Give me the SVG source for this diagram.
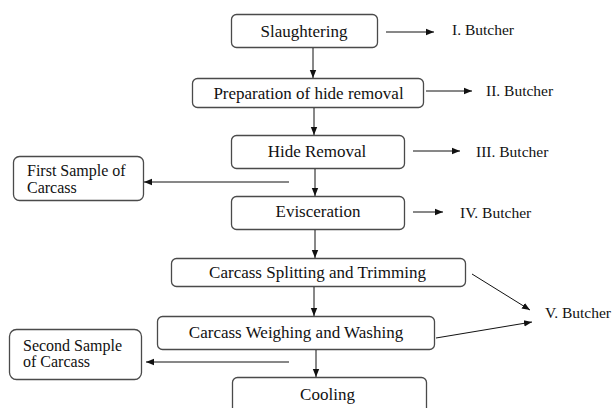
<svg xmlns="http://www.w3.org/2000/svg" width="613" height="408" viewBox="0 0 613 408">
<style>
.box{fill:#fff;stroke:#4a4a4a;stroke-width:1.3}
.t{font-family:'Liberation Serif','Times New Roman',Times,serif;font-size:17px;fill:#111}
.s{font-size:15.5px}
.l{font-size:16px}
.c{text-anchor:middle}
.ln{stroke:#111;stroke-width:1;fill:none;marker-end:url(#ah)}
</style>
<defs>
<marker id="ah" viewBox="0 0 10 10" refX="10" refY="5" markerWidth="8" markerHeight="8" markerUnits="userSpaceOnUse" orient="auto">
<path d="M0,1 L10,5 L0,9 z" fill="#111"/>
</marker>
</defs>
<rect width="613" height="408" fill="#fff"/>
<g id="slaughtering"><rect class="box" x="231.5" y="14.5" width="146" height="33" rx="5"/><text class="t c" x="304" y="37">Slaughtering</text></g>
<g id="prep"><rect class="box" x="192.5" y="78.5" width="231" height="29" rx="5"/><text class="t c" x="308.5" y="99">Preparation of hide removal</text></g>
<g id="hide"><rect class="box" x="231.5" y="135.5" width="173" height="33" rx="5"/><text class="t c" x="317" y="157">Hide Removal</text></g>
<g id="evisc"><rect class="box" x="231.5" y="196.5" width="173" height="33" rx="5"/><text class="t c" x="318" y="217">Evisceration</text></g>
<g id="split"><rect class="box" x="171.5" y="258.5" width="294" height="28" rx="5"/><text class="t c" x="317.5" y="278">Carcass Splitting and Trimming</text></g>
<g id="weigh"><rect class="box" x="157.5" y="316.5" width="277" height="33" rx="5"/><text class="t c" x="296" y="338">Carcass Weighing and Washing</text></g>
<g id="cooling"><rect class="box" x="232.5" y="377.5" width="194" height="40" rx="5"/><text class="t c" x="327.5" y="400">Cooling</text></g>
<g id="first"><rect class="box" x="13.5" y="156.5" width="130" height="44" rx="6"/><text class="t l" x="27" y="176">First Sample of</text><text class="t l" x="27" y="193">Carcass</text></g>
<g id="second"><rect class="box" x="9.5" y="329.5" width="132" height="50" rx="7"/><text class="t l" x="23" y="351">Second Sample</text><text class="t l" x="23" y="367">of Carcass</text></g>
<g id="b1"><text class="t s" x="452" y="35">I. Butcher</text></g>
<g id="b2"><text class="t s" x="486" y="96">II. Butcher</text></g>
<g id="b3"><text class="t s" x="476" y="157">III. Butcher</text></g>
<g id="b4"><text class="t s" x="460" y="218">IV. Butcher</text></g>
<g id="b5"><text class="t s" x="545" y="318">V. Butcher</text></g>
<g id="connectors">
<line class="ln" x1="313" y1="48" x2="313" y2="78"/>
<line class="ln" x1="314" y1="108" x2="314" y2="135"/>
<line class="ln" x1="315" y1="169" x2="315" y2="196"/>
<line class="ln" x1="315" y1="230" x2="315" y2="258"/>
<line class="ln" x1="314" y1="287" x2="314" y2="316"/>
<line class="ln" x1="316" y1="350" x2="316" y2="377"/>
<line class="ln" x1="386" y1="32" x2="434" y2="32"/>
<line class="ln" x1="426" y1="91" x2="472" y2="91"/>
<line class="ln" x1="413" y1="151" x2="460" y2="151"/>
<line class="ln" x1="413" y1="212" x2="443" y2="212"/>
<line class="ln" x1="289" y1="182" x2="144" y2="182"/>
<line class="ln" x1="289" y1="362" x2="146" y2="362"/>
<line class="ln" x1="472" y1="274" x2="530" y2="310"/>
<line class="ln" x1="436" y1="338" x2="532" y2="322"/>
</g>
</svg>
